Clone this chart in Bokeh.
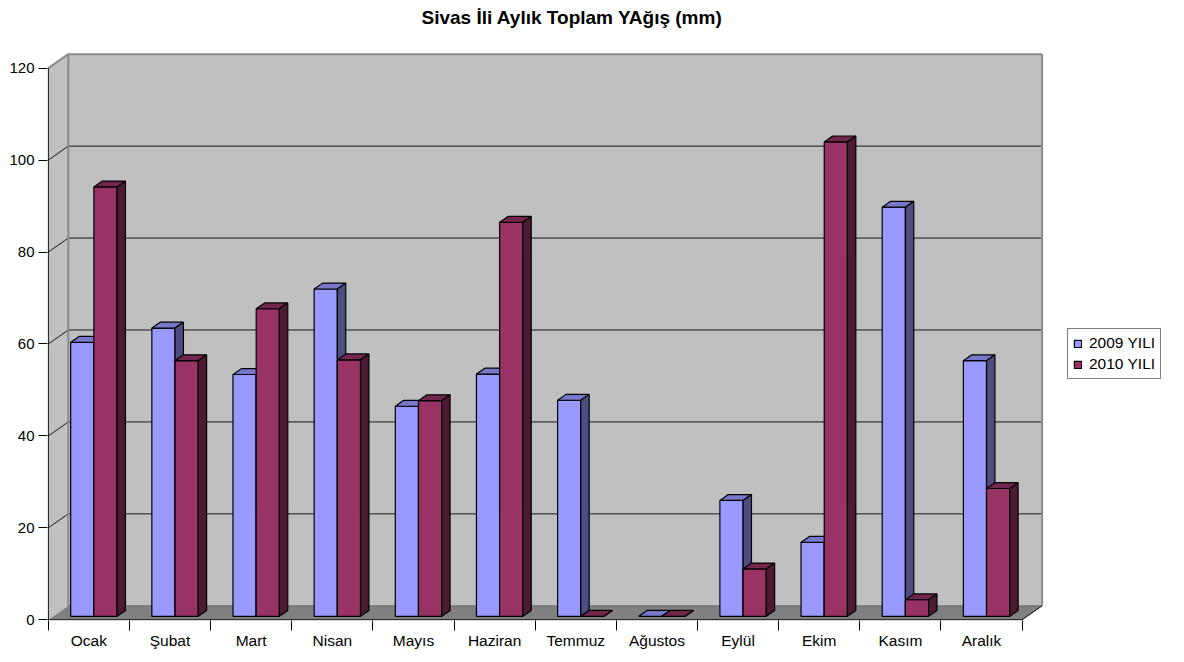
from bokeh.plotting import figure
from bokeh.models import Range1d, FixedTicker, Legend, LegendItem
from bokeh.embed import file_html
from bokeh.resources import INLINE

# ---------------- data ----------------
months = ["Ocak", "Şubat", "Mart", "Nisan", "Mayıs", "Haziran",
          "Temmuz", "Ağustos", "Eylül", "Ekim", "Kasım", "Aralık"]
rain_2009 = [59.6, 62.7, 52.6, 71.2, 45.7, 52.7, 47.0, 0.0, 25.2, 16.1, 89.0, 55.6]
rain_2010 = [93.4, 55.6, 66.9, 55.8, 46.9, 85.7, 0.0, 0.0, 10.3, 103.2, 3.6, 27.8]
series_names = ["2009 YILI", "2010 YILI"]
y_ticks = [0, 20, 40, 60, 80, 100, 120]
title_text = "Sivas İli Aylık Toplam YAğış (mm)"

# ---------------- styling / geometry ----------------
FONT = "Liberation Sans"
n = len(months)
ymax = y_ticks[-1]
PX_X = 81.15          # px per category
PX_Y = 4.597          # px per value unit
DX = 20 / PX_X        # wall depth (category units)
DY = 14 / PX_Y        # wall depth (value units)
bar_w = 0.2857
gap = (1 - 2 * bar_w) / 2
FZ, BZ = 0.25, 0.42
fx, fy = FZ * DX, FZ * DY
bx, by = BZ * DX, BZ * DY

face_colors = [("#9999FF", "#7777CC", "#4D4D80"),
               ("#993366", "#73264D", "#4D1A33")]

frame_w = 1184 - 47
frame_h = 620 - 30
x0 = -0.01
y0 = -0.15

p = figure(width=1184, height=662, output_backend="svg", toolbar_location=None,
           x_range=Range1d(x0, x0 + frame_w / PX_X),
           y_range=Range1d(y0, y0 + frame_h / PX_Y),
           min_border_left=47, min_border_right=0,
           min_border_top=30, min_border_bottom=42)
p.outline_line_color = None
p.background_fill_color = "white"
p.border_fill_color = "white"
p.xgrid.visible = False
p.ygrid.visible = False

# title
p.title.text = title_text
p.title.text_font = FONT
p.title.text_font_style = "bold"
p.title.text_font_size = "19px"
p.title.text_color = "black"
p.title.align = "left"
p.title.offset = 374
p.title.standoff = 5

# ---------------- walls ----------------
p.patch([0, DX, DX, 0], [0, DY, ymax + DY, ymax],
        fill_color="#C0C0C0", line_color=None)
p.quad(left=[DX], right=[n + DX], bottom=[DY], top=[ymax + DY],
       fill_color="#C0C0C0", line_color=None)
p.patch([0, n, n + DX, DX], [0, 0, DY, DY],
        fill_color="#808080", line_color=None)

grid_vals = y_ticks[1:-1]
p.segment(x0=[DX] * len(grid_vals), y0=[v + DY for v in grid_vals],
          x1=[n + DX] * len(grid_vals), y1=[v + DY for v in grid_vals],
          line_color="#1a1a1a", line_width=1)
p.segment(x0=[0] * len(grid_vals), y0=grid_vals,
          x1=[DX] * len(grid_vals), y1=[v + DY for v in grid_vals],
          line_color="#1a1a1a", line_width=1)

# gray wall borders
p.multi_line(xs=[[DX, DX], [DX, n + DX], [n + DX, n + DX], [0, DX]],
             ys=[[DY, ymax + DY], [ymax + DY, ymax + DY], [DY, ymax + DY], [ymax, ymax + DY]],
             line_color="#8a8a8a", line_width=2)
# floor back edge
p.segment(x0=[DX], y0=[DY], x1=[n + DX], y1=[DY], line_color="#6a6a6a", line_width=1)
# black front edges
p.multi_line(xs=[[0, 0], [0, n], [n, n + DX]],
             ys=[[0, ymax], [0, 0], [0, DY]],
             line_color="black", line_width=1)

# ---------------- bars ----------------
front_renderers = []
for s, vals in enumerate([rain_2009, rain_2010]):
    c_front, c_top, c_side = face_colors[s]
    L = [i + gap + s * bar_w + fx for i in range(n)]
    R = [l + bar_w for l in L]
    B = [fy] * n
    T = [fy + v for v in vals]
    fr = p.quad(left=L, right=R, bottom=B, top=T,
                fill_color=c_front, line_color="black", line_width=1.2)
    front_renderers.append(fr)
    p.patches(xs=[[l, r, r + bx, l + bx] for l, r in zip(L, R)],
              ys=[[t, t, t + by, t + by] for t in T],
              fill_color=c_top, line_color="black", line_width=1.2)
    p.patches(xs=[[r, r + bx, r + bx, r] for r in R],
              ys=[[b, b + by, t + by, t] for b, t in zip(B, T)],
              fill_color=c_side, line_color="black", line_width=1.2)

# ---------------- axes ----------------
xa = p.xaxis[0]
xa.ticker = FixedTicker(ticks=[i + 0.5 for i in range(n)], minor_ticks=list(range(n + 1)))
xa.major_label_overrides = {i + 0.5: m for i, m in enumerate(months)}
xa.major_tick_line_color = None
xa.major_tick_out = 0
xa.major_tick_in = 0
xa.minor_tick_out = 10
xa.minor_tick_in = 0
xa.minor_tick_line_color = "black"
xa.axis_line_color = None
xa.major_label_standoff = 1
xa.major_label_text_font = FONT
xa.major_label_text_font_size = "15.5px"
xa.major_label_text_color = "black"

ya = p.yaxis[0]
ya.ticker = FixedTicker(ticks=y_ticks, minor_ticks=[])
ya.axis_line_color = None
ya.major_tick_out = 9
ya.major_tick_in = 0
ya.major_tick_line_color = "black"
ya.major_label_standoff = 4
ya.major_label_text_font = FONT
ya.major_label_text_font_size = "15px"
ya.major_label_text_color = "black"

# ---------------- legend ----------------
legend = Legend(items=[LegendItem(label=series_names[i], renderers=[front_renderers[i]])
                       for i in range(2)],
                location=(1020, 241),
                border_line_color="black", border_line_width=1,
                background_fill_color="white", background_fill_alpha=1,
                padding=5, spacing=3, margin=0,
                glyph_width=9, glyph_height=9, label_standoff=7,
                label_height=17,
                label_text_font=FONT, label_text_font_size="15.5px",
                label_text_color="black")
p.add_layout(legend)

open("out.html", "w").write(file_html(p, INLINE))
